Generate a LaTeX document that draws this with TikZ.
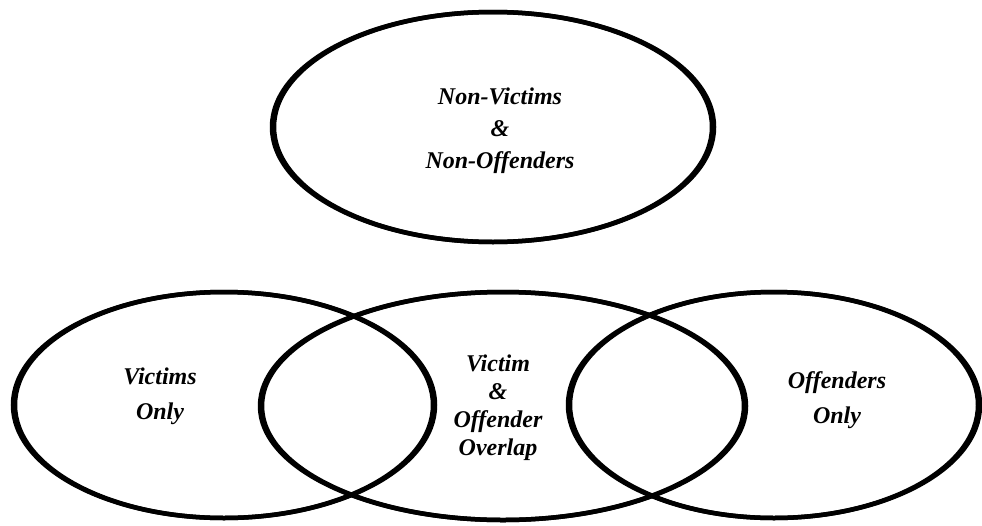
\documentclass[tikz,border=0pt]{standalone}
\usepackage{fontspec}
\setmainfont{Liberation Serif}
\usetikzlibrary{shapes.geometric}
\begin{document}
\begin{tikzpicture}[x=1pt,y=-1pt,
  oval/.style={ellipse,draw=black,line width=4.5pt,inner sep=0pt},
  lbl/.style={align=center,font=\fontsize{24}{28}\selectfont\bfseries\itshape}]
\useasboundingbox[fill=white] (0,0) rectangle (982,525);
% ellipses
\node[oval,minimum width=438pt,minimum height=230pt] (top) at (493,127) {};
\node[oval,minimum width=418pt,minimum height=226pt] (vic) at (224,405) {};
\node[oval,minimum width=482pt,minimum height=228pt] (mid) at (503,406) {};
\node[oval,minimum width=408pt,minimum height=226pt] (off) at (774,405) {};
% thicker sides
\foreach \n/\rx/\ry in {top/221/115,vic/211/113,mid/243/114,off/206/113}{
  \draw[line width=4.5pt] (\n.center) ellipse [x radius=\rx pt, y radius=\ry pt];
}
% labels
\node[lbl,font=\fontsize{24}{32}\selectfont\bfseries\itshape] (tl) at (500,131) {Non-Victims\\\&\\Non-Offenders};
\node[lbl,font=\fontsize{24}{35}\selectfont\bfseries\itshape] (vl) at (160,396) {Victims\\Only};
\node[lbl] (ml) at (498,408) {Victim\\\&\\Offender\\Overlap};
\node[lbl,font=\fontsize{24}{35}\selectfont\bfseries\itshape] (ol) at (837,400) {Offenders\\Only};
\end{tikzpicture}
\end{document}
